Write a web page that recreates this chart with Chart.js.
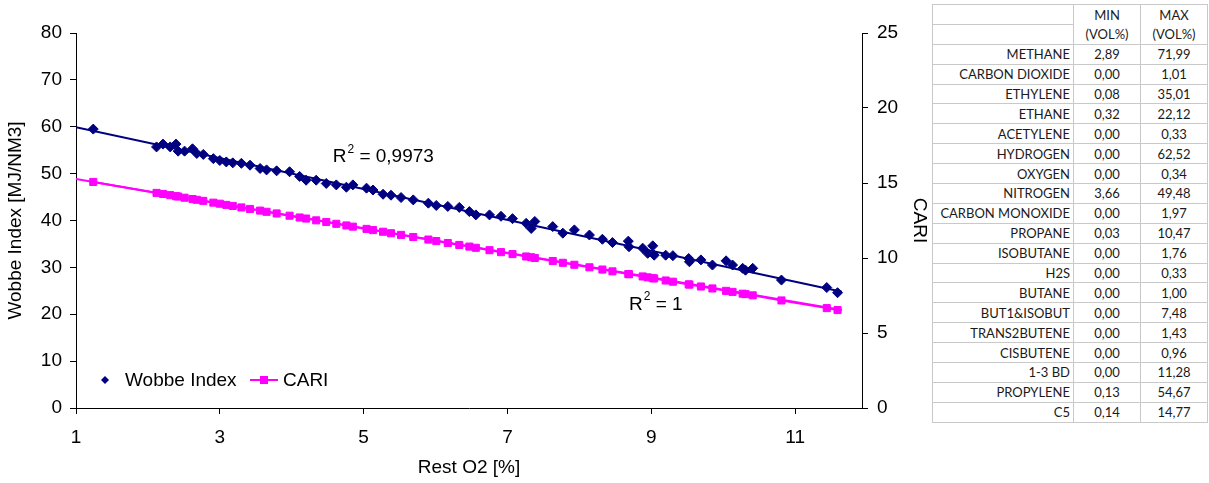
<!DOCTYPE html>
<html>
<head>
<meta charset="utf-8">
<script src="https://cdn.jsdelivr.net/npm/chart.js@4.4.1/dist/chart.umd.min.js"></script>
<style>
body { margin: 0; background: #fff; width: 1209px; height: 483px; overflow: hidden; position: relative; }
#wrap { position: absolute; left: 0; top: 0; width: 935px; height: 483px; }
#gasTable { position: absolute; left: 932px; top: 4px; width: 275px; table-layout: fixed; border-collapse: collapse; font-family: Lato, "Open Sans", sans-serif; font-size: 13px; color: #1a1a1a; background: #fff; z-index: 2; }
#gasTable td { border: 1px solid #c9c9c9; padding: 0 3px; height: 18.9px; line-height: 18px; white-space: nowrap; overflow: hidden; }
#gasTable td.name { text-align: right; }
#gasTable td.num { text-align: center; }
#gasTable tr.h1 td.num { border-bottom: none; }
#gasTable tr.h2 td.num { border-top: none; }
</style>
</head>
<body>
<div id="wrap"><canvas id="wobbeChart" width="935" height="483"></canvas></div>
<table id="gasTable"><colgroup><col style="width:141px"><col style="width:67px"><col style="width:67px"></colgroup><tbody id="gasBody"></tbody></table>
<script>
"use strict";
// sample data
const restO2 = [1.24, 2.12, 2.21, 2.31, 2.39, 2.42, 2.51, 2.62, 2.68, 2.77, 2.91, 3.00, 3.09, 3.18, 3.30, 3.42, 3.56, 3.65, 3.79, 3.97,
    4.11, 4.20, 4.34, 4.48, 4.62, 4.76, 4.85, 5.04, 5.13, 5.27, 5.38, 5.52, 5.69, 5.90, 6.01, 6.17, 6.33, 6.47, 6.56, 6.75,
    6.91, 7.07, 7.26, 7.33, 7.38, 7.63, 7.77, 7.93, 8.14, 8.32, 8.46, 8.68, 8.69, 8.88, 8.95, 9.02, 9.04, 9.20, 9.30, 9.52,
    9.53, 9.69, 9.85, 10.04, 10.13, 10.27, 10.31, 10.41, 10.81, 11.44, 11.59];
const wobbeIndex = [59.5, 55.7, 56.3, 55.7, 56.3, 54.8, 54.8, 55.3, 54.3, 54.1, 53.2, 52.8, 52.5, 52.3, 52.2, 51.8, 51.1, 50.8, 50.6, 50.4,
    49.4, 48.6, 48.6, 47.9, 47.6, 47.1, 47.6, 46.9, 46.5, 45.6, 45.4, 44.9, 44.4, 43.7, 43.2, 43.0, 42.8, 41.9, 41.2, 41.2,
    40.9, 40.4, 39.4, 38.3, 39.8, 38.7, 37.3, 38.0, 36.9, 36.0, 35.3, 35.6, 34.4, 34.1, 33.0, 34.6, 32.6, 32.6, 32.5, 31.9,
    31.2, 31.6, 30.5, 31.4, 30.5, 29.8, 29.4, 29.8, 27.3, 25.7, 24.6];
const cari = [15.07, 14.34, 14.27, 14.19, 14.12, 14.10, 14.02, 13.93, 13.88, 13.81, 13.69, 13.62, 13.54, 13.47, 13.37, 13.27, 13.16, 13.08, 12.97, 12.82,
    12.70, 12.63, 12.51, 12.40, 12.28, 12.17, 12.09, 11.94, 11.86, 11.75, 11.65, 11.54, 11.40, 11.23, 11.13, 11.00, 10.87, 10.76, 10.68, 10.52,
    10.39, 10.26, 10.10, 10.05, 10.00, 9.80, 9.68, 9.55, 9.38, 9.23, 9.11, 8.93, 8.92, 8.77, 8.71, 8.65, 8.64, 8.50, 8.42, 8.24,
    8.23, 8.10, 7.97, 7.81, 7.74, 7.62, 7.59, 7.51, 7.17, 6.66, 6.53];
const trendX = [1, 11.65];
const wobbeTrend = [59.9, 24.8];
const cariTrend = [15.27, 6.53];
const xTicks = [1, 3, 5, 7, 9, 11];

const gasNames = ['METHANE', 'CARBON DIOXIDE', 'ETHYLENE', 'ETHANE', 'ACETYLENE', 'HYDROGEN', 'OXYGEN', 'NITROGEN', 'CARBON MONOXIDE',
    'PROPANE', 'ISOBUTANE', 'H2S', 'BUTANE', 'BUT1&ISOBUT', 'TRANS2BUTENE', 'CISBUTENE', '1-3 BD', 'PROPYLENE', 'C5'];
const gasMin = ['2,89', '0,00', '0,08', '0,32', '0,00', '0,00', '0,00', '3,66', '0,00', '0,03', '0,00', '0,00', '0,00', '0,00', '0,00', '0,00', '0,00', '0,13', '0,14'];
const gasMax = ['71,99', '1,01', '35,01', '22,12', '0,33', '62,52', '0,34', '49,48', '1,97', '10,47', '1,76', '0,33', '1,00', '7,48', '1,43', '0,96', '11,28', '54,67', '14,77'];

const NAVY = '#000080';
const PINK = '#ff00ff';
const FONT = '"Liberation Sans", Arial, sans-serif';

// table on the right
let rows = '<tr class="h1"><td class="name"></td><td class="num">MIN</td><td class="num">MAX</td></tr>';
rows += '<tr class="h2"><td class="name"></td><td class="num">(VOL%)</td><td class="num">(VOL%)</td></tr>';
gasNames.forEach((name, i) => {
    rows += '<tr><td class="name">' + name.replace('&', '&amp;') + '</td><td class="num">' + gasMin[i] + '</td><td class="num">' + gasMax[i] + '</td></tr>';
});
document.getElementById('gasBody').innerHTML = rows;

function points(xs, ys) {
    return xs.map((x, i) => ({ x, y: ys[i] }));
}

// R² texts and the in-plot legend
const extrasPlugin = {
    id: 'extras',
    afterDatasetsDraw(chart, args, opts) {
        const c = chart.ctx;
        const sx = chart.scales.x;
        c.save();
        c.fillStyle = '#000';
        c.textBaseline = 'middle';
        opts.r2.forEach(lab => {
            let px = sx.getPixelForValue(lab.x);
            const py = chart.scales[lab.axis].getPixelForValue(lab.y);
            c.font = '19px ' + FONT;
            c.textAlign = 'left';
            c.fillText('R', px, py);
            px += c.measureText('R').width + 1;
            c.font = '12px ' + FONT;
            c.fillText('2', px, py - 8);
            px += c.measureText('2').width;
            c.font = '19px ' + FONT;
            c.fillText(' = ' + lab.text, px, py);
        });
        // legend
        const lx = opts.legend.x, ly = opts.legend.y;
        c.fillStyle = NAVY;
        c.beginPath();
        c.moveTo(lx, ly - 4); c.lineTo(lx + 4, ly); c.lineTo(lx, ly + 4); c.lineTo(lx - 4, ly);
        c.closePath();
        c.fill();
        c.fillStyle = '#000';
        c.font = '19px ' + FONT;
        c.fillText('Wobbe Index', lx + 20, ly + 1);
        const mx = lx + 145;
        c.strokeStyle = PINK;
        c.lineWidth = 2;
        c.beginPath();
        c.moveTo(mx, ly); c.lineTo(mx + 28, ly);
        c.stroke();
        c.fillStyle = PINK;
        c.fillRect(mx + 10, ly - 4, 8, 8);
        c.fillStyle = '#000';
        c.fillText('CARI', mx + 33, ly + 1);
        c.restore();
    }
};

const axisLine = { color: '#000', width: 1 };
const axisGrid = { drawOnChartArea: false, drawTicks: true, tickLength: 6, color: '#000' };
const tickFont = { family: FONT, size: 19 };

new Chart(document.getElementById('wobbeChart').getContext('2d'), {
    type: 'scatter',
    data: {
        datasets: [
            {
                label: 'Wobbe Index', data: points(restO2, wobbeIndex), yAxisID: 'y',
                pointStyle: 'rectRot', pointRadius: 5, pointBorderWidth: 1,
                backgroundColor: NAVY, borderColor: NAVY, showLine: false
            },
            {
                label: 'Wobbe trend', data: points(trendX, wobbeTrend), yAxisID: 'y',
                showLine: true, pointRadius: 0, borderColor: NAVY, borderWidth: 2
            },
            {
                label: 'CARI trend', data: points(trendX, cariTrend), yAxisID: 'y1',
                showLine: true, pointRadius: 0, borderColor: PINK, borderWidth: 2
            },
            {
                label: 'CARI', data: points(restO2, cari), yAxisID: 'y1',
                pointStyle: 'rect', pointRadius: 5, pointBorderWidth: 1,
                backgroundColor: PINK, borderColor: PINK, showLine: true, borderWidth: 2
            }
        ]
    },
    options: {
        responsive: false,
        animation: false,
        devicePixelRatio: 1,
        layout: { padding: { top: 33, left: 0, right: 0, bottom: 0 } },
        plugins: {
            legend: { display: false },
            tooltip: { enabled: false },
            extras: {
                r2: [
                    { text: '0,9973', x: 4.57, y: 53.5, axis: 'y' },
                    { text: '1', x: 8.69, y: 6.87, axis: 'y1' }
                ],
                legend: { x: 105, y: 380 }
            }
        },
        scales: {
            x: {
                type: 'linear', min: 1, max: 11.93,
                afterBuildTicks: scale => { scale.ticks = xTicks.map(v => ({ value: v })); },
                afterFit: scale => { scale.height = 75; },
                ticks: { font: tickFont, color: '#000', padding: 12, maxRotation: 0 },
                grid: axisGrid, border: axisLine,
                title: { display: true, text: 'Rest O2 [%]', font: tickFont, color: '#000' }
            },
            y: {
                position: 'left', min: 0, max: 80,
                afterFit: scale => { scale.width = 76; },
                ticks: { stepSize: 10, font: tickFont, color: '#000', padding: 8 },
                grid: axisGrid, border: axisLine,
                title: { display: true, text: 'Wobbe Index [MJ/NM3]', font: tickFont, color: '#000' }
            },
            y1: {
                position: 'right', min: 0, max: 25,
                afterFit: scale => { scale.width = 73; },
                ticks: { stepSize: 5, font: tickFont, color: '#000', padding: 9 },
                grid: axisGrid, border: axisLine,
                title: { display: true, text: 'CARI', font: tickFont, color: '#000' }
            }
        }
    },
    plugins: [extrasPlugin]
});
</script>
</body>
</html>
